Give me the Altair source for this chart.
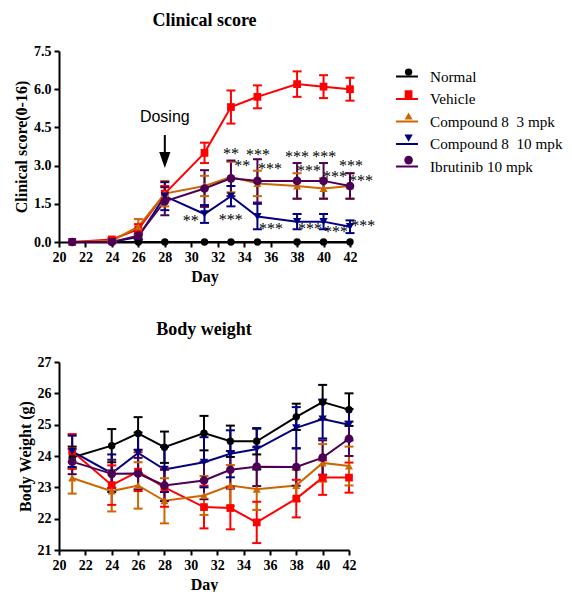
import altair as alt
import pandas as pd

# ---------------- data ----------------
days = [21, 24, 26, 28, 31, 33, 35, 38, 40, 42]
groups = ["Normal", "Vehicle", "Compound 8\u00a0\u00a03 mpk",
          "Compound 8\u00a0\u00a010 mpk", "Ibrutinib 10 mpk"]
group_colors = ["#000000", "#FF0000", "#CC6600", "#000080", "#4B0055"]
group_shapes = ["circle", "square", "triangle-up", "triangle-down", "circle"]
group_sizes = [55, 75, 75, 75, 110]

# Clinical score (mean, SEM)
cs_normal = [0, 0, 0, 0, 0, 0, 0, 0, 0, 0]
cs_normal_sem = [0, 0, 0, 0, 0, 0, 0, 0, 0, 0]
cs_vehicle = [0.0, 0.1, 0.5, 1.9, 3.5, 5.3, 5.7, 6.2, 6.1, 6.0]
cs_vehicle_sem = [0.0, 0.05, 0.2, 0.3, 0.4, 0.65, 0.45, 0.5, 0.45, 0.45]
cs_c3 = [0.0, 0.05, 0.6, 1.9, 2.2, 2.55, 2.3, 2.2, 2.1, 2.2]
cs_c3_sem = [0.0, 0.05, 0.3, 0.5, 0.4, 0.6, 0.5, 0.5, 0.4, 0.5]
cs_c10 = [0.0, 0.0, 0.2, 1.8, 1.1, 1.8, 1.0, 0.8, 0.8, 0.6]
cs_c10_sem = [0.0, 0.0, 0.1, 0.55, 0.35, 0.4, 0.5, 0.3, 0.3, 0.25]
cs_ibr = [0.0, 0.0, 0.25, 1.6, 2.1, 2.5, 2.4, 2.4, 2.4, 2.2]
cs_ibr_sem = [0.0, 0.0, 0.15, 0.55, 0.72, 0.7, 0.85, 0.7, 0.7, 0.5]

# Body weight (mean, SEM)
bw_normal = [23.95, 24.33, 24.72, 24.28, 24.73, 24.47, 24.47, 25.25, 25.72, 25.48]
bw_normal_sem = [0.35, 0.53, 0.52, 0.5, 0.55, 0.5, 0.42, 0.42, 0.55, 0.52]
bw_vehicle = [24.15, 23.07, 23.5, 23.0, 22.37, 22.34, 21.88, 22.64, 23.31, 23.31]
bw_vehicle_sem = [0.55, 0.63, 0.62, 0.62, 0.68, 0.68, 0.66, 0.6, 0.55, 0.48]
bw_c3 = [23.3, 22.88, 23.06, 22.57, 22.74, 23.06, 22.94, 23.06, 23.78, 23.68]
bw_c3_sem = [0.5, 0.65, 0.74, 0.72, 0.62, 0.65, 0.66, 0.5, 0.6, 0.62]
bw_c10 = [24.15, 23.45, 24.1, 23.57, 23.8, 24.07, 24.22, 24.9, 25.18, 25.0]
bw_c10_sem = [0.5, 0.6, 0.65, 0.72, 0.8, 0.75, 0.65, 0.66, 0.62, 0.5]
bw_ibr = [23.82, 23.43, 23.44, 23.06, 23.22, 23.56, 23.66, 23.65, 23.95, 24.55]
bw_ibr_sem = [0.4, 0.45, 0.5, 0.5, 0.6, 0.6, 0.62, 0.6, 0.55, 0.55]

# significance annotations (day, score, label)
star_day = [33.0, 33.85, 35.05, 35.95, 38.0, 40.05, 38.9, 40.87, 42.08, 42.83,
            29.96, 32.99, 36.02, 38.98, 40.95, 43.0]
star_value = [3.61, 3.14, 3.57, 3.02, 3.49, 3.49, 2.94, 2.71, 3.14, 2.55,
              0.98, 1.02, 0.67, 0.67, 0.55, 0.79]
star_label = ["**", "**", "***", "***", "***", "***", "***", "***", "***", "***",
              "**", "***", "***", "***", "***", "***"]

# dosing annotation
dosing_day = [28]
dosing_text_value = [4.91]
arrow_top = [4.2]
arrow_bottom = [3.45]
arrow_head = [3.22]

x_ticks = list(range(20, 43, 2))
cs_ticks = [0.0, 1.5, 3.0, 4.5, 6.0, 7.5]
bw_ticks = [21, 22, 23, 24, 25, 26, 27]


def long_df(means, sems):
    rows = []
    for g, m, s in zip(groups, means, sems):
        for d, v, e in zip(days, m, s):
            rows.append({"series": g, "series_l": g, "day": d, "value": v,
                         "lo": v - e, "hi": v + e, "sem": e})
    return pd.DataFrame(rows)


cs_df = long_df([cs_normal, cs_vehicle, cs_c3, cs_c10, cs_ibr],
                [cs_normal_sem, cs_vehicle_sem, cs_c3_sem, cs_c10_sem, cs_ibr_sem])
bw_df = long_df([bw_normal, bw_vehicle, bw_c3, bw_c10, bw_ibr],
                [bw_normal_sem, bw_vehicle_sem, bw_c3_sem, bw_c10_sem, bw_ibr_sem])
cs_err = cs_df[cs_df["sem"] > 0]

stars_df = pd.DataFrame({"day": star_day, "value": star_value, "label": star_label})
dose_df = pd.DataFrame({"day": dosing_day, "value": dosing_text_value,
                        "top": arrow_top, "bottom": arrow_bottom, "head": arrow_head})

SERIF = "Liberation Serif"
SANS = "Liberation Sans"

# ---------------- encodings ----------------
X = alt.X("day:Q", scale=alt.Scale(domain=[20, 42], nice=False, zero=False),
          axis=alt.Axis(values=x_ticks, title="Day", labelFlush=False))


def y_cs(field):
    return alt.Y(f"{field}:Q", scale=alt.Scale(domain=[0, 7.5], nice=False),
                 axis=alt.Axis(values=cs_ticks, format=".1f", title="Clinical score(0-16)",
                               labelFlush=False))


def y_bw(field):
    return alt.Y(f"{field}:Q", scale=alt.Scale(domain=[21, 27], nice=False, zero=False),
                 axis=alt.Axis(values=bw_ticks, format="d", title="Body Weight (g)",
                               labelFlush=False))


marker_legend = alt.Legend(orient="none", legendX=342, legendY=13.5, title=None,
                           labelExpr="''", labelFontSize=15.2, labelFont=SERIF,
                           rowPadding=6, symbolOpacity=1, symbolStrokeWidth=0)
line_legend = alt.Legend(orient="none", legendX=336, legendY=13.5, title=None,
                         symbolType="stroke", symbolSize=484, symbolStrokeWidth=2,
                         labelFont=SERIF, labelFontSize=15.2, labelColor="black",
                         labelOffset=11, rowPadding=1.5, symbolOpacity=1)

color_scale = alt.Scale(domain=groups, range=group_colors)


def color_enc(legend):
    return alt.Color("series:N", scale=color_scale, legend=legend, sort=groups)


# ---------------- top: clinical score ----------------
t_lines = alt.Chart(cs_df).mark_line(strokeWidth=2).encode(
    x=X, y=y_cs("value"),
    stroke=alt.Stroke("series_l:N", scale=alt.Scale(range=group_colors),
                      legend=line_legend, sort=groups),
)
t_err = alt.Chart(cs_err).mark_rule(strokeWidth=2).encode(
    x=X, y=y_cs("lo"), y2="hi", color=color_enc(marker_legend))
t_cap_hi = alt.Chart(cs_err).mark_point(shape="M-1,0L1,0", size=81, strokeWidth=2,
                                        filled=False, opacity=1).encode(
    x=X, y=y_cs("hi"), color=color_enc(marker_legend))
t_cap_lo = alt.Chart(cs_err).mark_point(shape="M-1,0L1,0", size=81, strokeWidth=2,
                                        filled=False, opacity=1).encode(
    x=X, y=y_cs("lo"), color=color_enc(marker_legend))
t_pts = alt.Chart(cs_df).mark_point(filled=True, opacity=1).encode(
    x=X, y=y_cs("value"), color=color_enc(marker_legend),
    shape=alt.Shape("series:N", scale=alt.Scale(domain=groups, range=group_shapes),
                    legend=marker_legend, sort=groups),
    size=alt.Size("series:N", scale=alt.Scale(domain=groups, range=group_sizes),
                  legend=marker_legend, sort=groups),
)
t_stars = alt.Chart(stars_df).mark_text(font=SERIF, fontSize=16, color="black",
                                        baseline="middle", dy=4).encode(
    x=X, y=y_cs("value"), text="label:N")
t_dose_text = alt.Chart(dose_df).mark_text(font=SANS, fontSize=16, color="black",
                                           baseline="middle").encode(
    x=X, y=y_cs("value"), text=alt.value("Dosing"))
t_shaft = alt.Chart(dose_df).mark_rule(strokeWidth=2, color="black").encode(
    x=X, y=y_cs("top"), y2="bottom")
t_head = alt.Chart(dose_df).mark_point(shape="M-0.7,-1L0.7,-1L0,1Z", size=256, filled=True,
                                       color="black", opacity=1).encode(
    x=X, y=y_cs("head"))

top = alt.layer(t_lines, t_err, t_cap_hi, t_cap_lo, t_pts, t_stars, t_dose_text,
                t_shaft, t_head).properties(
    width=291, height=191,
    title=alt.TitleParams("Clinical score", font=SERIF, fontSize=18, fontWeight="bold",
                          anchor="middle", color="black", offset=14),
)

# ---------------- bottom: body weight ----------------
b_color = alt.Color("series:N", scale=color_scale, legend=None, sort=groups)
b_lines = alt.Chart(bw_df).mark_line(strokeWidth=2).encode(
    x=X, y=y_bw("value"), color=b_color)
b_err = alt.Chart(bw_df).mark_rule(strokeWidth=2).encode(
    x=X, y=y_bw("lo"), y2="hi", color=b_color)
b_cap_hi = alt.Chart(bw_df).mark_point(shape="M-1,0L1,0", size=81, strokeWidth=2,
                                       filled=False, opacity=1).encode(
    x=X, y=y_bw("hi"), color=b_color)
b_cap_lo = alt.Chart(bw_df).mark_point(shape="M-1,0L1,0", size=81, strokeWidth=2,
                                       filled=False, opacity=1).encode(
    x=X, y=y_bw("lo"), color=b_color)
b_pts = alt.Chart(bw_df).mark_point(filled=True, opacity=1).encode(
    x=X, y=y_bw("value"), color=b_color,
    shape=alt.Shape("series:N", scale=alt.Scale(domain=groups, range=group_shapes),
                    legend=None, sort=groups),
    size=alt.Size("series:N", scale=alt.Scale(domain=groups, range=group_sizes),
                  legend=None, sort=groups),
)
bottom = alt.layer(b_lines, b_err, b_cap_hi, b_cap_lo, b_pts).properties(
    width=290, height=188,
    title=alt.TitleParams("Body weight", font=SERIF, fontSize=18, fontWeight="bold",
                          anchor="middle", color="black", offset=16),
)

chart = alt.vconcat(top, bottom, spacing=37).resolve_scale(
    color="independent", shape="independent", size="independent", stroke="independent"
).configure(padding={"left": 5, "top": 4, "right": 0, "bottom": 0}
).configure_view(stroke=None).configure_axis(
    grid=False, domainColor="black", domainWidth=2, tickColor="black", tickWidth=2,
    tickSize=5, labelFont=SERIF, labelFontWeight="bold", labelFontSize=14,
    labelColor="black", labelPadding=3, titleFont=SERIF, titleFontWeight="bold",
    titleFontSize=16, titleColor="black", titlePadding=4,
)

chart.save("out.html", embed_options={"renderer": "svg", "actions": False})
